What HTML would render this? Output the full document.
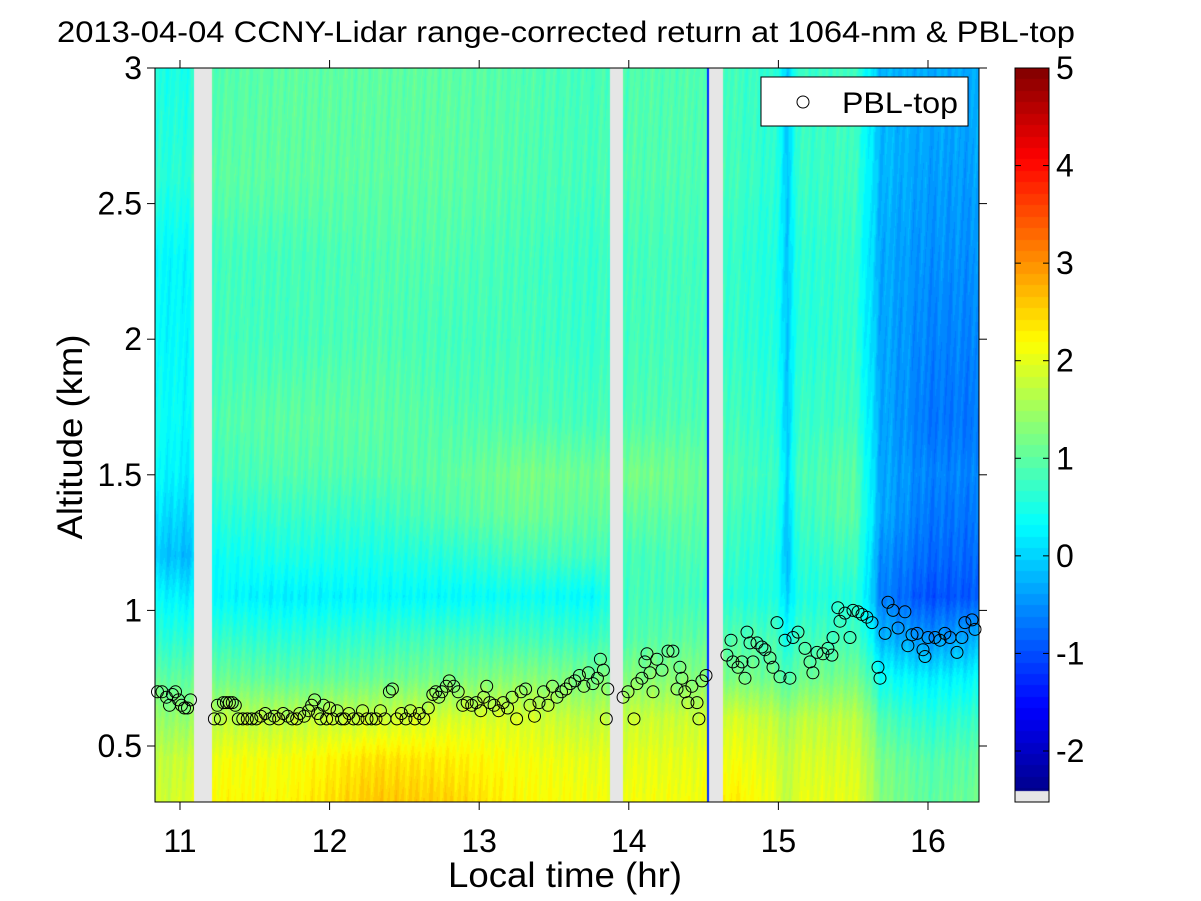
<!DOCTYPE html>
<html><head><meta charset="utf-8">
<style>
html,body{margin:0;padding:0;background:#fff;}
#wrap{position:relative;width:1201px;height:901px;overflow:hidden;font-family:"Liberation Sans",sans-serif;}
canvas{position:absolute;left:0;top:0;}
svg{position:absolute;left:0;top:0;}
</style></head>
<body>
<div id="wrap">
<canvas id="hm" width="1201" height="901"></canvas>
<svg id="ov" width="1201" height="901"></svg>
</div>
<script>
// ---- data ----
const gridTimes = [10.85,11.05,11.25,11.7,12.3,12.8,13.3,13.75,14.0,14.45,14.7,15.0,15.06,15.12,15.5,15.58,15.68,16.0,16.33];
const gridAlts = [0.3,0.45,0.6,0.75,0.9,1.05,1.2,1.35,1.5,1.7,2.0,2.3,2.6,3.0];
const gridValues = [
 [1.8,1.7,1.4,1.0,0.6,0.3,-0.1,0.1,0.3,0.4,0.3,0.3,0.6,0.5],
 [1.9,1.8,1.4,1.0,0.6,0.2,-0.2,0.0,0.2,0.3,0.3,0.3,0.6,0.5],
 [2.2,2.1,1.7,1.1,0.7,0.3,0.4,0.6,0.8,0.9,0.8,0.8,1.0,0.9],
 [2.2,2.1,1.7,1.0,0.6,0.2,0.5,0.7,0.9,1.0,0.8,0.8,1.0,1.0],
 [2.6,2.4,1.8,1.1,0.7,0.3,0.5,0.7,0.9,1.0,0.9,0.9,1.0,1.0],
 [2.5,2.3,1.9,1.2,0.8,0.3,0.6,0.9,1.0,0.9,0.8,0.9,1.0,1.0],
 [2.2,2.1,1.9,1.3,0.8,0.4,0.8,1.1,1.2,0.9,0.8,0.8,0.9,0.9],
 [2.1,2.0,1.7,1.2,0.7,0.3,0.8,1.0,1.1,0.8,0.7,0.7,0.8,0.8],
 [2.1,2.0,1.8,1.3,0.9,0.8,0.8,1.0,1.2,0.9,0.8,0.8,0.9,0.9],
 [2.1,2.0,1.8,1.3,1.0,0.8,0.9,1.0,1.1,0.9,0.8,0.8,0.9,0.9],
 [2.3,2.1,1.9,1.2,0.9,0.6,0.7,0.8,0.9,0.8,0.7,0.7,0.8,0.8],
 [2.0,1.9,1.7,1.1,0.8,0.5,0.5,0.6,0.7,0.6,0.5,0.5,0.6,0.6],
 [1.6,1.6,1.4,0.8,0.3,-0.1,-0.3,-0.2,-0.1,-0.2,-0.2,-0.2,-0.2,-0.2],
 [2.0,1.9,1.7,1.1,0.8,0.5,0.6,0.7,0.8,0.7,0.6,0.6,0.7,0.7],
 [2.0,1.9,1.7,1.2,0.8,0.6,0.8,1.0,1.0,0.8,0.7,0.7,0.8,0.8],
 [1.8,1.7,1.5,1.0,0.6,0.3,0.4,0.5,0.5,0.4,0.3,0.3,0.4,0.4],
 [1.3,1.2,0.9,0.4,-0.2,-0.6,-0.5,-0.3,-0.3,-0.3,-0.3,-0.3,-0.2,-0.2],
 [1.0,0.9,0.6,0.2,-0.5,-1.0,-0.8,-0.7,-0.6,-0.7,-0.6,-0.5,-0.4,-0.3],
 [1.1,1.0,0.7,0.3,-0.3,-0.9,-0.8,-0.7,-0.6,-0.7,-0.6,-0.5,-0.4,-0.3]
];
const gapStarts = [11.094,13.875,14.536];
const gapEnds = [11.214,13.96,14.63];
const spikeStarts = [14.52];
const spikeEnds = [14.536];
const spikeValues = [-1.3];
const pblTimes = [10.85,10.88,10.91,10.93,10.95,10.97,10.99,11.01,11.03,11.05,11.07,
11.23,11.25,11.27,11.29,11.31,11.33,11.35,11.37,11.39,11.42,11.45,11.48,11.51,11.54,11.57,11.60,11.63,11.66,11.69,11.72,11.75,11.78,11.80,11.83,11.86,11.88,11.90,11.92,11.94,11.96,11.98,12.00,12.02,12.05,12.08,12.10,12.13,12.16,12.19,12.22,12.25,12.28,12.31,12.34,12.37,12.40,12.42,12.45,12.48,12.51,12.54,12.57,12.60,12.63,12.66,12.69,12.71,12.73,12.75,12.78,12.80,12.83,12.86,12.89,12.92,12.95,12.98,13.01,13.03,13.05,13.07,13.10,13.13,13.16,13.19,13.22,13.25,13.28,13.31,13.34,13.37,13.40,13.43,13.46,13.49,13.52,13.55,13.58,13.61,13.64,13.67,13.70,13.73,13.76,13.79,13.81,13.83,13.85,13.86,
13.962,13.995,14.035,14.055,14.088,14.108,14.122,14.142,14.162,14.188,14.222,14.262,14.295,14.322,14.342,14.355,14.375,14.395,14.422,14.456,14.469,14.489,14.516,
14.656,14.683,14.696,14.730,14.757,14.777,14.790,14.810,14.830,14.857,14.890,14.910,14.944,14.964,14.991,15.011,15.044,15.077,15.098,15.131,15.178,15.211,15.231,15.258,15.298,15.331,15.358,15.365,15.398,15.412,15.445,15.479,15.499,15.532,15.559,15.592,15.626,15.666,15.679,15.713,15.733,15.766,15.800,15.846,15.866,15.893,15.927,15.967,15.980,16.000,16.047,16.080,16.113,16.147,16.194,16.227,16.247,16.294,16.314];
const pblAlts = [0.70,0.70,0.68,0.65,0.69,0.70,0.67,0.65,0.64,0.64,0.67,
0.60,0.65,0.60,0.66,0.66,0.66,0.66,0.65,0.60,0.60,0.60,0.60,0.60,0.61,0.62,0.60,0.61,0.60,0.62,0.61,0.60,0.60,0.62,0.61,0.63,0.65,0.67,0.62,0.60,0.65,0.60,0.64,0.60,0.63,0.60,0.60,0.62,0.60,0.60,0.63,0.60,0.60,0.60,0.63,0.60,0.70,0.71,0.60,0.62,0.60,0.63,0.60,0.62,0.60,0.64,0.69,0.70,0.68,0.70,0.72,0.74,0.72,0.70,0.65,0.66,0.65,0.66,0.63,0.68,0.72,0.66,0.65,0.63,0.66,0.64,0.68,0.60,0.70,0.71,0.65,0.61,0.66,0.70,0.65,0.72,0.68,0.70,0.71,0.73,0.74,0.76,0.72,0.77,0.73,0.75,0.82,0.78,0.60,0.71,
0.68,0.70,0.60,0.73,0.75,0.81,0.84,0.77,0.70,0.82,0.78,0.85,0.85,0.71,0.79,0.75,0.70,0.66,0.72,0.66,0.60,0.74,0.76,
0.835,0.89,0.81,0.79,0.81,0.75,0.92,0.88,0.81,0.88,0.865,0.855,0.825,0.79,0.955,0.755,0.89,0.75,0.90,0.92,0.86,0.81,0.77,0.845,0.84,0.86,0.835,0.90,1.01,0.96,0.99,0.90,1.0,0.995,0.985,0.975,0.955,0.79,0.75,0.915,1.03,1.0,0.935,0.995,0.87,0.91,0.915,0.855,0.83,0.90,0.90,0.89,0.915,0.90,0.845,0.90,0.955,0.965,0.93];
const xTicks = [11,12,13,14,15,16];
const yTicks = [0.5,1,1.5,2,2.5,3];
const yTickLabels = ["0.5","1","1.5","2","2.5","3"];
const cbTicks = [-2,-1,0,1,2,3,4,5];

// ---- axes ----
const PL=155, PR=979, PT=68, PB=802;
const X0=10.833, X1=16.341, Y0=0.2935, Y1=3.0;
const xs = t => PL + (t-X0)/(X1-X0)*(PR-PL);
const ys = a => PB - (a-Y0)/(Y1-Y0)*(PB-PT);
const CMIN=-2.5, CMAX=5;
const cbTop=68, cbPx=97.57;
const cbY = v => cbTop + (CMAX-v)*cbPx;

function jet(v){
  let n=(v-CMIN)/(CMAX-CMIN); n=Math.max(0,Math.min(0.9999,n));
  n=(Math.floor(n*64)+0.5)/64;
  const f=x=>Math.max(0,Math.min(1,x));
  return [f(1.5-Math.abs(4*n-3)),f(1.5-Math.abs(4*n-2)),f(1.5-Math.abs(4*n-1))].map(c=>Math.round(c*255));
}
function lerpIdx(arr,v){
  if(v<=arr[0]) return [0,0,0];
  if(v>=arr[arr.length-1]) return [arr.length-1,arr.length-1,0];
  for(let i=0;i<arr.length-1;i++) if(v<=arr[i+1]) return [i,i+1,(v-arr[i])/(arr[i+1]-arr[i])];
}
function sample(t,a){
  const [i0,i1,ft]=lerpIdx(gridTimes,t), [j0,j1,fa]=lerpIdx(gridAlts,a);
  const v00=gridValues[i0][j0],v10=gridValues[i1][j0],v01=gridValues[i0][j1],v11=gridValues[i1][j1];
  return (v00*(1-ft)+v10*ft)*(1-fa)+(v01*(1-ft)+v11*ft)*fa;
}
const ctx=document.getElementById('hm').getContext('2d');
const img=ctx.createImageData(PR-PL,PB-PT);
for(let py=0;py<PB-PT;py++){
  const alt=Y0+((PB-PT)-py-0.5)/(PB-PT)*(Y1-Y0);
  for(let px=0;px<PR-PL;px++){
    const t=X0+(px+0.5)/(PR-PL)*(X1-X0);
    let c=null;
    for(let g=0;g<gapStarts.length;g++) if(t>=gapStarts[g]&&t<gapEnds[g]) c=[230,230,230];
    if(!c) for(let s=0;s<spikeStarts.length;s++) if(t>=spikeStarts[s]&&t<spikeEnds[s]) c=jet(spikeValues[s]);
    if(!c){
      const wob=0.08*Math.sin(px*0.9+py*0.05)+0.06*Math.sin(px*0.37);
      c=jet(sample(t,alt)+wob);
    }
    const k=(py*(PR-PL)+px)*4;
    img.data[k]=c[0];img.data[k+1]=c[1];img.data[k+2]=c[2];img.data[k+3]=255;
  }
}
ctx.putImageData(img,PL,PT);
// colorbar
const CBL=1015,CBR=1049,CBB=802,cbNan=791;
for(let y=cbTop;y<cbNan;y++){
  const v=CMAX-(y+0.5-cbTop)/cbPx;
  const c=jet(v); ctx.fillStyle=`rgb(${c[0]},${c[1]},${c[2]})`; ctx.fillRect(CBL,y,CBR-CBL,1);
}
ctx.fillStyle='#e6e6e6'; ctx.fillRect(CBL,cbNan,CBR-CBL,CBB-cbNan);

// ---- overlay ----
const svg=document.getElementById('ov'), NS='http://www.w3.org/2000/svg';
function mk(tag,attrs,parent){const e=document.createElementNS(NS,tag);for(const k in attrs)e.setAttribute(k,attrs[k]);(parent||svg).appendChild(e);return e;}
const pbl=mk('g',{});


for(let i=0;i<pblTimes.length;i++){
  const c=mk('circle',{cx:xs(pblTimes[i]).toFixed(1),cy:ys(pblAlts[i]).toFixed(1),r:6,fill:'none',stroke:'#000','stroke-width':1},pbl);
  
  
}
const box=mk('rect',{x:PL,y:PT,width:PR-PL,height:PB-PT,fill:'none',stroke:'#000','stroke-width':1});


xTicks.forEach(t=>{
  const x=xs(t);
  mk('line',{x1:x,y1:PB,x2:x,y2:PB+8,stroke:'#000'});
  mk('line',{x1:x,y1:PT,x2:x,y2:PT-8,stroke:'#000'});
  const tx=mk('text',{x:x,y:PB+50,'text-anchor':'middle','font-size':32,fill:'#000'});
  tx.textContent=t;
  
  
});
yTicks.forEach((a,i)=>{
  const y=ys(a);
  mk('line',{x1:PL,y1:y,x2:PL-8,y2:y,stroke:'#000'});
  mk('line',{x1:PR,y1:y,x2:PR+8,y2:y,stroke:'#000'});
  const tx=mk('text',{x:PL-13,y:y+11,'text-anchor':'end','font-size':32,fill:'#000'});
  tx.textContent=yTickLabels[i];
  
  
});
const cbf=mk('rect',{x:CBL,y:cbTop,width:CBR-CBL,height:CBB-cbTop,fill:'none',stroke:'#000'});


cbTicks.forEach(v=>{
  const y=cbY(v);
  mk('line',{x1:CBL,y1:y,x2:CBL+6,y2:y,stroke:'#000'});
  mk('line',{x1:CBR,y1:y,x2:CBR-6,y2:y,stroke:'#000'});
  const tx=mk('text',{x:CBR+7,y:y+11,'font-size':32,fill:'#000'});
  tx.textContent=v;
  
  
});
</script>
<svg width="1201" height="901" style="position:absolute;left:0;top:0;pointer-events:none">
<text x="57" y="42" font-size="30" textLength="1018" lengthAdjust="spacingAndGlyphs" font-family="Liberation Sans, sans-serif">2013-04-04 CCNY-Lidar range-corrected return at 1064-nm &amp; PBL-top</text>
<text x="448" y="887" font-size="35" textLength="234" lengthAdjust="spacingAndGlyphs" font-family="Liberation Sans, sans-serif">Local time (hr)</text>
<text x="0" y="0" transform="translate(82,437) rotate(-90)" text-anchor="middle" font-size="35" textLength="205" lengthAdjust="spacingAndGlyphs" font-family="Liberation Sans, sans-serif">Altitude (km)</text>
<g>
<rect x="761" y="77" width="207" height="49" fill="#fff" stroke="#000"/>
<circle cx="803" cy="102" r="6" fill="none" stroke="#000"/>
<text x="842" y="113" font-size="30" textLength="116" lengthAdjust="spacingAndGlyphs" font-family="Liberation Sans, sans-serif">PBL-top</text>
</g>
</svg>
</body></html>
